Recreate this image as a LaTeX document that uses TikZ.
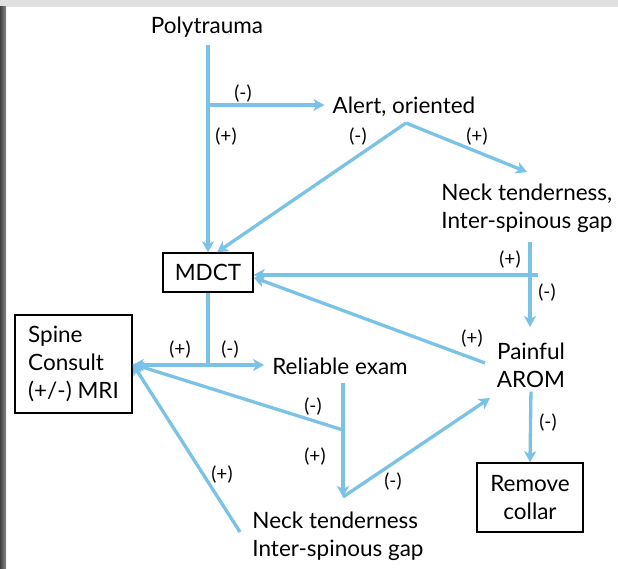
\documentclass[tikz,border=0pt]{standalone}
\usepackage{fontspec}
\setmainfont{Lato}
\usetikzlibrary{arrows.meta}
\definecolor{flow}{RGB}{122,194,230}
\begin{document}
\begin{tikzpicture}[x=1pt,y=-1pt,
  txt/.style={font=\fontsize{22.5}{28}\selectfont, inner sep=0pt, align=center},
  box/.style={txt, draw=black, line width=1.4pt},
  lbl/.style={font=\fontsize{19}{20}\selectfont, inner sep=0pt},
  plainline/.style={draw=flow, line width=3.3pt},
  flowline/.style={plainline, -{Stealth[length=11pt,width=12pt,inset=3pt]}}]
\useasboundingbox (0,0) rectangle (618,569);
\fill[white] (0,0) rectangle (618,569);
\fill[black!12] (0,0) rectangle (618,7);
\shade[left color=black!75, right color=black!45] (0,7) rectangle (6,569);

% nodes
\node[txt] (poly) at (207,27) {Polytrauma};
\node[txt] (alert) at (404,107) {Alert, oriented};
\node[txt, align=left] (neck1) at (527,208) {Neck tenderness,\\Inter-spinous gap};
\node[box, minimum width=90pt, minimum height=39pt] (mdct) at (208,272.5) {MDCT};
\node[box, align=left, minimum width=117pt, minimum height=98pt] (spine) at (73.5,364) {Spine\\Consult\\(+/-) MRI};
\node[txt] (rel) at (340,366) {Reliable exam};
\node[txt] (pain) at (531,365) {Painful\\AROM};
\node[txt, align=left] (neck2) at (338,536) {Neck tenderness\\Inter-spinous gap};
\node[box, minimum width=106pt, minimum height=69pt] (rem) at (530,497.5) {Remove\\collar};

% junctions and free ends
\coordinate (j1) at (208,105);
\coordinate (apex) at (406,123);
\coordinate (n1in) at (527,172);
\coordinate (n1out) at (530,242);
\coordinate (painin) at (530,327);
\coordinate (j3e) at (538,275);
\coordinate (painfrom) at (485,363);
\coordinate (j4) at (208,365);
\coordinate (reltop) at (343,383);
\coordinate (j5) at (343,430);
\coordinate (n2tip) at (343,497);
\coordinate (painin2) at (490,398);
\coordinate (n2from) at (240,532);

% connectors
\draw[flowline, shorten <=8pt] (poly.south -| mdct.north) -- (mdct.north);
\draw[flowline, shorten >=8pt] (j1) -- (j1 -| alert.west);
\draw[flowline] (apex) -- ([xshift=9pt]mdct.north);
\draw[flowline] (apex) -- (n1in);
\draw[flowline] (n1out) -- (painin);
\draw[flowline] (j3e) -- (j3e -| mdct.east);
\draw[flowline] (painfrom) -- ([yshift=-5pt]mdct.east);
\draw[plainline] (mdct.south) -- (j4);
\draw[flowline] (j4) -- (j4 -| spine.east);
\draw[flowline, shorten >=8pt] (j4) -- (j4 -| rel.west);
\draw[flowline] (reltop) -- (n2tip);
\draw[flowline] (j5) -- (spine.east);
\draw[flowline] (n2tip) -- (painin2);
\draw[flowline] (n2from) -- (spine.east);
\draw[flowline, shorten <=4pt] (pain.south) -- (rem.north);

% labels
\node[lbl] (l1) at (243,94) {(-)};
\node[lbl] (l2) at (226,137) {(+)};
\node[lbl] (l3) at (358,137) {(-)};
\node[lbl] (l4) at (477,137) {(+)};
\node[lbl] (l5) at (510,260) {(+)};
\node[lbl] (l6) at (547,293) {(-)};
\node[lbl] (l7) at (472,339) {(+)};
\node[lbl] (l8) at (548,423) {(-)};
\node[lbl] (l9) at (180,350) {(+)};
\node[lbl] (l10) at (230,350) {(-)};
\node[lbl] (l11) at (313,407) {(-)};
\node[lbl] (l12) at (315,457) {(+)};
\node[lbl] (l13) at (393,482) {(-)};
\node[lbl] (l14) at (222,475) {(+)};
\end{tikzpicture}
\end{document}
